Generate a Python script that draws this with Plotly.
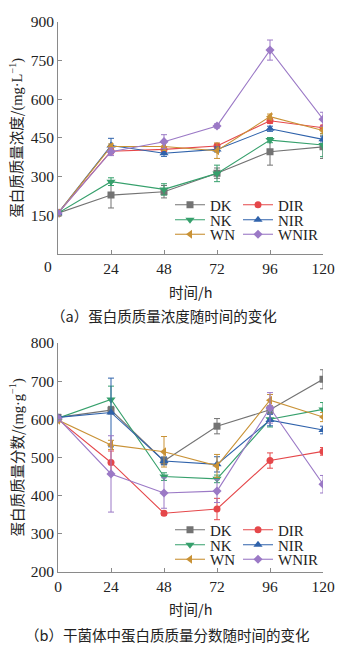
import plotly.graph_objects as go

W, H = 350, 649

hours = [0, 24, 48, 72, 96, 120]
series_names = ["DK", "DIR", "NK", "NIR", "WN", "WNIR"]

# (a) protein mass concentration, mg/L
conc_DK = [158, 228, 241, 313, 396, 415]
conc_DIR = [158, 398, 405, 418, 516, 489]
conc_NK = [158, 280, 250, 312, 441, 422]
conc_NIR = [158, 420, 390, 405, 485, 444]
conc_WN = [158, 416, 416, 400, 532, 478]
conc_WNIR = [158, 396, 435, 496, 790, 522]
conc_err_DK = [5, 50, 24, 20, 52, 45]
conc_err_DIR = [5, 10, 10, 8, 10, 10]
conc_err_NK = [5, 15, 22, 32, 10, 45]
conc_err_NIR = [5, 28, 12, 10, 10, 10]
conc_err_WN = [5, 10, 15, 30, 10, 12]
conc_err_WNIR = [5, 15, 27, 8, 39, 27]

# (b) protein mass fraction in dry cells, mg/g
frac_DK = [605, 624, 491, 582, 625, 705]
frac_DIR = [600, 487, 354, 365, 492, 516]
frac_NK = [603, 652, 450, 444, 600, 626]
frac_NIR = [605, 618, 491, 482, 598, 572]
frac_WN = [598, 533, 515, 478, 650, 606]
frac_WNIR = [603, 457, 407, 412, 630, 430]
frac_err_DK = [8, 10, 10, 20, 10, 25]
frac_err_DIR = [5, 30, 5, 28, 20, 10]
frac_err_NK = [5, 35, 10, 10, 20, 18]
frac_err_NIR = [5, 90, 10, 20, 15, 10]
frac_err_WN = [5, 12, 40, 30, 15, 12]
frac_err_WNIR = [5, 100, 40, 30, 40, 23]

x_ticks_top = [24, 48, 72, 96, 120]
x_ticks = [0, 24, 48, 72, 96, 120]
y1_ticks = [150, 300, 450, 600, 750, 900]
y2_ticks = [200, 300, 400, 500, 600, 700, 800]

colors = {"DK": "#737373", "DIR": "#e5474a", "NK": "#36a06c",
          "NIR": "#2f62ab", "WN": "#c99236", "WNIR": "#9b79c6"}
symbols = {"DK": "square", "DIR": "circle", "NK": "triangle-down",
           "NIR": "triangle-up", "WN": "triangle-left", "WNIR": "diamond"}
legend_row = {"DK": 0, "DIR": 0, "NK": 1, "NIR": 1, "WN": 2, "WNIR": 2}
legend_col = {"DK": 0, "DIR": 1, "NK": 0, "NIR": 1, "WN": 0, "WNIR": 1}

conc = {"DK": conc_DK, "DIR": conc_DIR, "NK": conc_NK, "NIR": conc_NIR, "WN": conc_WN, "WNIR": conc_WNIR}
conc_err = {"DK": conc_err_DK, "DIR": conc_err_DIR, "NK": conc_err_NK, "NIR": conc_err_NIR,
            "WN": conc_err_WN, "WNIR": conc_err_WNIR}
frac = {"DK": frac_DK, "DIR": frac_DIR, "NK": frac_NK, "NIR": frac_NIR, "WN": frac_WN, "WNIR": frac_WNIR}
frac_err = {"DK": frac_err_DK, "DIR": frac_err_DIR, "NK": frac_err_NK, "NIR": frac_err_NIR,
            "WN": frac_err_WN, "WNIR": frac_err_WNIR}

# pixel geometry helpers
L, R = 58, 323
def px(x):
    return (x - L) / (R - L)
def py(y):
    return (H - y) / H

SERIF = "Liberation Serif, Times New Roman, serif"
CJK = "Noto Sans CJK SC, sans-serif"
TXT = "#222222"
AX = "#8a8a8a"

fig = go.Figure()

def add_traces(data, err, xa, ya, legend_base):
    for name in series_names:
        c = colors[name]
        msize = 8 if "triangle" in symbols[name] else 7
        idx = legend_base + legend_row[name]
        fig.add_trace(go.Scatter(
            x=hours, y=data[name], name=name, mode="lines+markers",
            xaxis=xa, yaxis=ya,
            line=dict(color=c, width=1.1),
            marker=dict(symbol=symbols[name], size=msize, color=c),
            error_y=dict(type="data", array=err[name], visible=True,
                         color=c, thickness=1, width=3),
            legend="legend" if idx == 1 else "legend%d" % idx,
            legendwidth=23 if legend_col[name] == 0 else 50,
        ))

add_traces(conc, conc_err, "x", "y", 1)
add_traces(frac, frac_err, "x2", "y2", 4)

axis_common = dict(showline=True, linecolor=AX, linewidth=1, ticks="inside",
                   ticklen=4, tickcolor=AX, showgrid=False, zeroline=False,
                   tickfont=dict(family=SERIF, size=15.5, color=TXT), automargin=False)

y1_dom = [py(253.9), py(21.7)]
y2_dom = [py(572), py(343)]

fig.update_layout(
    width=W, height=H,
    margin=dict(l=L, r=W - R, t=0, b=0),
    paper_bgcolor="white", plot_bgcolor="white",
    xaxis=dict(domain=[0, 1], anchor="y", range=[0, 120], tickvals=x_ticks_top, **axis_common),
    yaxis=dict(domain=y1_dom, anchor="x", range=[0, 900], tickvals=y1_ticks, **axis_common),
    xaxis2=dict(domain=[0, 1], anchor="y2", range=[0, 120], tickvals=x_ticks, **axis_common),
    yaxis2=dict(domain=y2_dom, anchor="x2", range=[200, 800], tickvals=y2_ticks, **axis_common),
)

leg_common = dict(orientation="h", xanchor="left", yanchor="middle",
                  bgcolor="rgba(0,0,0,0)", borderwidth=0,
                  font=dict(family=SERIF, size=15, color=TXT),
                  entrywidthmode="pixels", itemwidth=30,
                  itemclick=False, itemdoubleclick=False)
top_rows = [205, 220, 234.5]
bot_rows = [530, 545, 559.5]
leg_x = px(170)
for i, yy in enumerate(top_rows + bot_rows):
    key = "legend" if i == 0 else "legend%d" % (i + 1)
    fig.update_layout({key: dict(x=leg_x, y=py(yy), **leg_common)})

UNIT = '<span style="font-family:Liberation Serif">'
ann = []
# shared origin label of panel (a)
ann.append(dict(text="0", x=px(48), y=py(266), xref="paper", yref="paper",
                showarrow=False, xanchor="center", yanchor="middle",
                font=dict(family=SERIF, size=15.5, color=TXT)))
# y titles
ann.append(dict(text="蛋白质质量浓度/" + UNIT + "(mg·L<sup>−1</sup>)</span>", x=px(16), y=py(137.8),
                xref="paper", yref="paper", showarrow=False, textangle=-90,
                xanchor="center", yanchor="middle",
                font=dict(family=CJK, size=14.5, color=TXT)))
ann.append(dict(text="蛋白质质量分数/" + UNIT + "(mg·g<sup>−1</sup>)</span>", x=px(16), y=py(457.5),
                xref="paper", yref="paper", showarrow=False, textangle=-90,
                xanchor="center", yanchor="middle",
                font=dict(family=CJK, size=14.5, color=TXT)))
# x titles
for yy in (291, 608):
    ann.append(dict(text="时间/h", x=px(190.5), y=py(yy), xref="paper", yref="paper",
                    showarrow=False, xanchor="center", yanchor="middle",
                    font=dict(family=CJK, size=14.5, color=TXT)))
# captions
ann.append(dict(text="（a）蛋白质质量浓度随时间的变化", x=px(164), y=py(315),
                xref="paper", yref="paper", showarrow=False, xanchor="center", yanchor="middle",
                font=dict(family=CJK, size=14.5, color=TXT)))
ann.append(dict(text="（b）干菌体中蛋白质质量分数随时间的变化", x=px(166.5), y=py(634),
                xref="paper", yref="paper", showarrow=False, xanchor="center", yanchor="middle",
                font=dict(family=CJK, size=14.5, color=TXT)))
fig.update_layout(annotations=ann)

fig.write_html("out.html")
